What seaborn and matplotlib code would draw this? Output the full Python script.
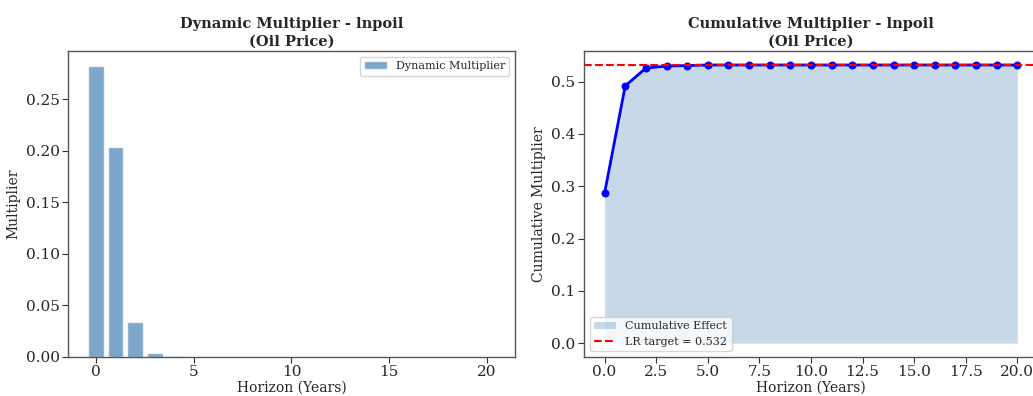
import numpy as np
import pandas as pd
import matplotlib
matplotlib.use("Agg")
import matplotlib.pyplot as plt
import seaborn as sns

horizons = list(range(21))
dynamic_mult = [0.283, 0.204, 0.034, 0.004, 0.0006, 0.0001, 0.0, 0.0, 0.0, 0.0,
                0.0, 0.0, 0.0, 0.0, 0.0, 0.0, 0.0, 0.0, 0.0, 0.0, 0.0]
cumulative_mult = [0.287, 0.492, 0.526, 0.530, 0.531, 0.532, 0.532, 0.532, 0.532, 0.532,
                   0.532, 0.532, 0.532, 0.532, 0.532, 0.532, 0.532, 0.532, 0.532, 0.532, 0.532]
lr_target = 0.532

sns.set_style("white")
plt.rcParams['font.family'] = ['DejaVu Serif']
plt.rcParams['font.size'] = 10

df = pd.DataFrame({"h": horizons, "dyn": dynamic_mult, "cum": cumulative_mult})

fig = plt.figure(figsize=(10.33, 3.96), dpi=100)
ax1 = fig.add_axes([0.0658, 0.0985, 0.4327, 0.7725])
ax2 = fig.add_axes([0.5653, 0.0985, 0.4395, 0.7725])

sns.barplot(data=df, x="h", y="dyn", native_scale=True, color="steelblue", alpha=0.7,
            saturation=1, edgecolor="white", width=0.8, label="Dynamic Multiplier",
            ax=ax1, errorbar=None)
ax1.set_xlim(-1.44, 21.44)
ax1.set_ylim(0, 0.297)
ax1.set_xticks([0, 5, 10, 15, 20])
ax1.set_title("Dynamic Multiplier - lnpoil\n(Oil Price)", fontweight="bold", fontsize=10.5,
              linespacing=1.3, pad=4)
ax1.set_xlabel("Horizon (Years)", labelpad=1)
ax1.set_ylabel("Multiplier")
ax1.legend(loc="upper right", fontsize=8)

ax2.fill_between(df["h"], 0, df["cum"], color="steelblue", alpha=0.3, label="Cumulative Effect", linewidth=0)
sns.lineplot(data=df, x="h", y="cum", color="blue", marker="o", markersize=5, linewidth=2,
             markeredgecolor="blue", ax=ax2)
ax2.axhline(lr_target, color="red", linestyle="--", linewidth=1.5, label=f"LR target = {lr_target:.3f}")
ax2.set_xlim(-1, 21)
ax2.set_ylim(-0.0266, 0.5586)
ax2.set_title("Cumulative Multiplier - lnpoil\n(Oil Price)", fontweight="bold", fontsize=10.5,
              linespacing=1.3, pad=4)
ax2.set_xlabel("Horizon (Years)", labelpad=1)
ax2.set_ylabel("Cumulative Multiplier")
ax2.legend(loc="lower left", fontsize=8)

for ax in (ax1, ax2):
    ax.tick_params(axis="both", which="both", length=4, width=0.8, color="#333333",
                   direction="out", left=True, bottom=True, labelsize=11, pad=2)
    for s in ax.spines.values():
        s.set_color("#555555")
        s.set_linewidth(1.0)

fig.savefig("out.png", dpi=100)
